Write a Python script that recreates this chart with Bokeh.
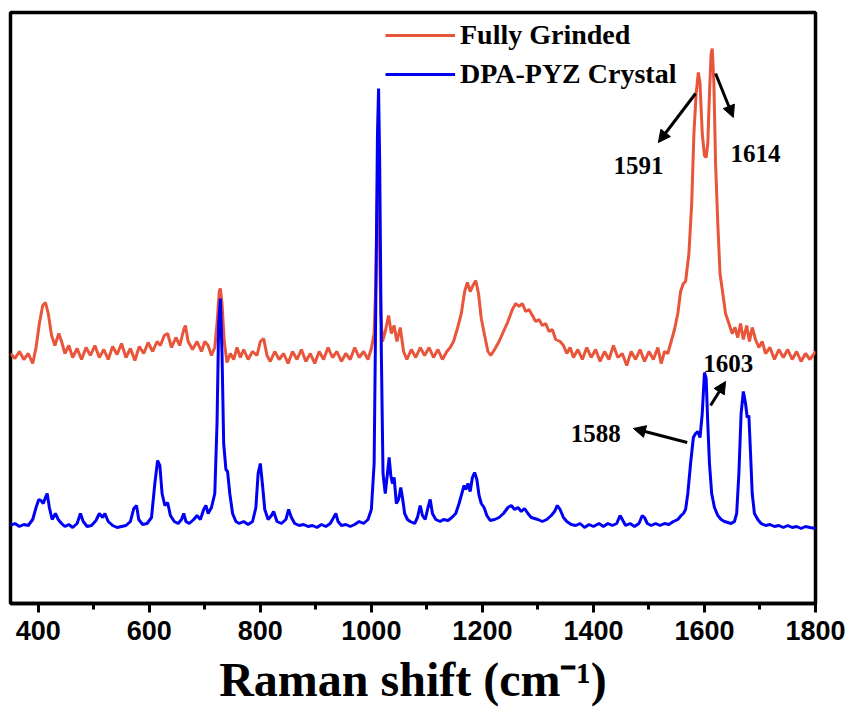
from bokeh.plotting import figure
from bokeh.models import (Range1d, SingleIntervalTicker, Legend, LegendItem,
                          Label, Arrow, NormalHead)
from bokeh.embed import file_html
from bokeh.resources import INLINE

# Raman spectra (wavenumber in cm^-1, intensity in arbitrary units, curves offset)
grinded_wn = [350, 358, 366, 374, 382, 390, 396, 402, 408, 413, 418, 424, 430, 437, 442,
              448, 455, 462, 470, 478, 486, 494, 502, 510, 518, 526, 534, 542, 550, 558,
              566, 574, 582, 590, 598, 606, 614, 620, 627, 633, 640, 648, 655, 662, 665,
              670, 678, 686, 694, 700, 706, 712, 718, 722, 726, 728, 731, 735, 740, 746,
              752, 758, 764, 770, 778, 786, 794, 800, 806, 812, 818, 826, 834, 842, 850,
              858, 866, 874, 882, 890, 898, 906, 914, 922, 930, 938, 946, 954, 962, 970,
              978, 986, 994, 1000, 1005, 1008, 1011, 1014, 1017, 1020, 1025, 1031, 1036,
              1041, 1046, 1052, 1058, 1064, 1072, 1080, 1088, 1096, 1104, 1112, 1120, 1128,
              1136, 1142, 1148, 1155, 1162, 1168, 1173, 1178, 1183, 1188, 1193, 1198, 1204,
              1210, 1215, 1222, 1230, 1238, 1246, 1254, 1260, 1266, 1272, 1278, 1284, 1290,
              1296, 1302, 1308, 1314, 1320, 1326, 1332, 1340, 1346, 1352, 1358, 1364, 1372,
              1380, 1388, 1396, 1404, 1412, 1420, 1428, 1436, 1444, 1452, 1460, 1468, 1476,
              1484, 1492, 1500, 1508, 1516, 1522, 1528, 1534, 1540, 1546, 1552, 1557, 1562,
              1566, 1572, 1577, 1581, 1585, 1589, 1592, 1596, 1600, 1603, 1606, 1609, 1612,
              1614, 1617, 1620, 1624, 1628, 1633, 1638, 1644, 1650, 1655, 1660, 1665, 1670,
              1676, 1681, 1686, 1692, 1698, 1704, 1710, 1718, 1726, 1734, 1742, 1750, 1758,
              1766, 1774, 1782, 1790, 1800]
grinded_int = [250, 245, 252, 244, 250, 240, 256, 280, 298, 301, 290, 268, 258, 270, 262,
               250, 258, 246, 255, 244, 256, 248, 258, 246, 254, 244, 257, 249, 260, 246,
               255, 243, 257, 250, 261, 252, 262, 258, 268, 270, 256, 266, 258, 274, 278,
               262, 254, 262, 252, 262, 258, 248, 256, 280, 312, 315, 300, 262, 241, 250,
               244, 256, 246, 254, 244, 252, 248, 262, 265, 248, 242, 252, 244, 250, 240,
               252, 244, 254, 242, 250, 240, 252, 244, 256, 246, 252, 242, 250, 244, 256,
               246, 252, 244, 255, 270, 320, 413, 380, 290, 262, 272, 288, 270,
               278, 262, 276, 252, 244, 254, 246, 256, 248, 256, 246, 254, 244,
               252, 256, 262, 275, 290, 312, 321, 312, 318, 323, 310, 285, 268,
               252, 248, 254, 262, 272, 282, 294, 300, 297, 300, 292, 294, 288,
               282, 284, 278, 280, 272, 274, 264, 262, 258, 250, 256, 246, 254,
               244, 256, 246, 254, 242, 252, 244, 258, 246, 250, 238, 252, 244,
               254, 242, 252, 244, 256, 240, 252, 250, 262, 274, 290, 312, 320,
               322, 350, 400, 470, 510, 531, 520, 470, 448, 446, 460, 510, 550,
               555, 520, 440, 380, 330, 310, 290, 280, 270, 276, 266, 280, 264,
               278, 262, 276, 264, 256, 262, 250, 256, 244, 254, 246, 254, 244,
               252, 242, 250, 244, 252]

crystal_wn = [350, 358, 366, 374, 382, 390, 396, 401, 405, 409, 413, 416, 420, 425, 431,
              436, 442, 448, 455, 462, 470, 476, 481, 488, 496, 504, 510, 516, 520, 526,
              534, 542, 550, 558, 566, 572, 577, 581, 588, 596, 604, 610, 615, 619, 623,
              628, 633, 638, 645, 652, 658, 662, 666, 672, 680, 686, 692, 698, 702, 706,
              712, 718, 722, 725, 728, 731, 734, 738, 741, 745, 750, 756, 762, 770, 778,
              786, 792, 796, 800, 804, 808, 814, 820, 824, 830, 838, 846, 851, 856, 862,
              870, 878, 886, 894, 902, 910, 918, 926, 932, 936, 940, 946, 954, 962, 970,
              978, 986, 994, 1000, 1005, 1008, 1011, 1013, 1015, 1018, 1021, 1025, 1029,
              1032, 1035, 1038, 1041, 1045, 1049, 1053, 1056, 1060, 1065, 1070, 1078, 1083,
              1088, 1092, 1097, 1102, 1106, 1110, 1116, 1124, 1130, 1138, 1145, 1152, 1158,
              1163, 1167, 1170, 1174, 1178, 1182, 1186, 1190, 1194, 1198, 1203, 1208, 1214,
              1222, 1230, 1238, 1246, 1252, 1258, 1264, 1270, 1276, 1282, 1288, 1294, 1300,
              1308, 1316, 1324, 1330, 1335, 1340, 1346, 1352, 1360, 1368, 1376, 1384, 1392,
              1400, 1410, 1418, 1426, 1434, 1442, 1448, 1452, 1458, 1466, 1474, 1482, 1488,
              1492, 1497, 1504, 1512, 1520, 1528, 1536, 1544, 1552, 1558, 1562, 1566, 1570,
              1575, 1580, 1584, 1588, 1592, 1596, 1600, 1603, 1606, 1609, 1613, 1618, 1624,
              1630, 1636, 1642, 1648, 1654, 1658, 1662, 1666, 1670, 1674, 1677, 1680, 1683,
              1686, 1690, 1696, 1702, 1710, 1718, 1726, 1734, 1742, 1750, 1758, 1766, 1774,
              1782, 1790, 1800]
crystal_int = [78, 80, 77, 79, 78, 84, 96, 104, 103, 100, 106, 110, 96, 84, 90,
               84, 80, 77, 79, 76, 80, 90, 82, 77, 78, 83, 90, 86, 90, 82,
               78, 76, 77, 78, 82, 95, 98, 84, 79, 80, 86, 120, 143, 138, 110,
               98, 101, 88, 82, 80, 84, 90, 82, 80, 84, 88, 84, 94, 98, 90,
               96, 110, 180, 280, 305, 250, 160, 134, 132, 110, 90, 82, 80, 82, 79,
               82, 96, 130, 140, 118, 94, 84, 88, 92, 82, 80, 84, 94, 86, 80,
               78, 79, 77, 78, 76, 79, 77, 80, 86, 90, 82, 78, 79, 77, 79,
               82, 80, 84, 94, 140, 300, 470, 515, 440, 250, 130, 110, 130,
               146, 128, 120, 126, 100, 104, 116, 106, 90, 84, 82, 80, 86,
               98, 88, 84, 96, 104, 90, 84, 82, 84, 83, 86, 90, 100,
               110, 118, 114, 120, 112, 126, 131, 124, 108, 100, 96, 88, 83,
               84, 86, 90, 96, 98, 94, 96, 92, 95, 90, 86, 85, 84,
               82, 84, 88, 92, 98, 94, 86, 82, 79, 78, 80, 76, 79,
               77, 80, 77, 80, 78, 80, 88, 84, 78, 80, 77, 80, 88,
               86, 80, 78, 80, 78, 80, 79, 82, 84, 88, 90, 94, 110,
               140, 166, 170, 172, 166, 190, 231, 225, 180, 140, 110, 96, 88,
               84, 82, 81, 80, 82, 90, 130, 190, 212, 200, 186, 188, 150,
               110, 90, 84, 80, 78, 79, 77, 78, 76, 78, 76, 77, 75,
               77, 76, 75]

series_names = ["Fully Grinded", "DPA-PYZ Crystal"]
series_colors = ["#E8553B", "#0000F5"]

SERIF = "Liberation Serif"

p = figure(width=856, height=725, frame_width=805, frame_height=591,
           x_range=Range1d(350, 1800), y_range=Range1d(0, 591),
           output_backend="svg", toolbar_location=None,
           min_border_left=10, min_border_right=41, min_border_top=12,
           min_border_bottom=122)

p.grid.visible = False
p.yaxis.visible = False
p.background_fill_color = "white"
p.border_fill_color = "white"
p.outline_line_color = "black"
p.outline_line_width = 3.5

# spectra: grinded sample first, crystal drawn on top
r_grinded = p.line(grinded_wn, grinded_int, line_color=series_colors[0], line_width=3)
r_crystal = p.line(crystal_wn, crystal_int, line_color=series_colors[1], line_width=3)

# x axis
ax = p.xaxis[0]
ax.ticker = SingleIntervalTicker(interval=200, num_minor_ticks=2)
ax.axis_line_width = 3.5
ax.axis_line_color = "black"
ax.major_tick_line_width = 3
ax.minor_tick_line_width = 3
ax.major_tick_in = 0
ax.major_tick_out = 9
ax.minor_tick_in = 0
ax.minor_tick_out = 6
ax.major_label_text_font = "Liberation Sans"
ax.major_label_text_font_style = "bold"
ax.major_label_text_font_size = "27px"
ax.major_label_text_color = "black"
ax.major_label_standoff = 8
ax.axis_label = "Raman shift (cm\u207b\u00b9)"
ax.axis_label_text_font = SERIF
ax.axis_label_text_font_style = "bold"
ax.axis_label_text_font_size = "48px"
ax.axis_label_text_color = "black"
ax.axis_label_standoff = 10

legend = Legend(items=[LegendItem(label=series_names[0], renderers=[r_grinded]),
                       LegendItem(label=series_names[1], renderers=[r_crystal])],
                location=(375, 513), orientation="vertical",
                glyph_width=70, glyph_height=30, label_height=30, spacing=7,
                padding=0, margin=0, label_standoff=5,
                label_text_font=SERIF, label_text_font_style="bold",
                label_text_font_size="28px", label_text_color="black",
                border_line_alpha=0, background_fill_alpha=0)
p.add_layout(legend, "center")

# peak annotations: (text, text_x, text_y, arrow_start_x, arrow_start_y, arrow_end_x, arrow_end_y)
peak_notes = [
    ("1591", 1481, 438, 1584, 510, 1517, 461),
    ("1614", 1692, 450, 1620, 530, 1652, 486),
    ("1588", 1404, 170, 1569, 161, 1472, 175),
    ("1603", 1643, 240, 1611, 198, 1638, 222),
]
for txt, tx, ty, x0, y0, x1, y1 in peak_notes:
    p.add_layout(Label(x=tx, y=ty, text=txt, text_align="center", text_baseline="middle",
                       text_font=SERIF, text_font_style="bold", text_font_size="25px",
                       text_color="black"))
    p.add_layout(Arrow(x_start=x0, y_start=y0, x_end=x1, y_end=y1,
                       line_color="black", line_width=3,
                       end=NormalHead(size=12, fill_color="black", line_color="black",
                                      line_width=1)))

open("out.html", "w").write(file_html(p, INLINE))
